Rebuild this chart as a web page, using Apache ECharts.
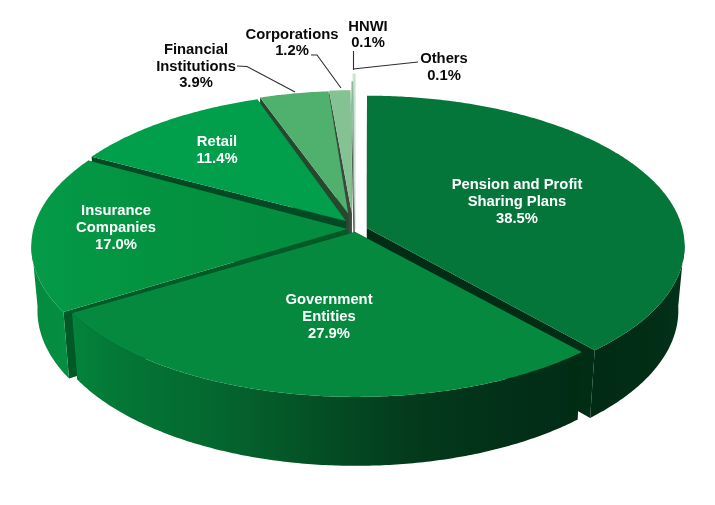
<!DOCTYPE html>
<html><head><meta charset="utf-8">
<style>html,body{margin:0;padding:0;background:#fff}#c{width:715px;height:505px}</style>
<script src="https://cdn.jsdelivr.net/npm/echarts@6/dist/echarts.min.js"></script>
</head><body><div id="c"></div>
<script>
// ---- data ----
const categories = ['Pension and Profit\nSharing Plans','Government\nEntities','Insurance\nCompanies','Retail','Financial\nInstitutions','Corporations','HNWI','Others'];
const shares = [38.5,27.9,17.0,11.4,3.9,1.2,0.1,0.1];
const shareLabels = ['38.5%','27.9%','17.0%','11.4%','3.9%','1.2%','0.1%','0.1%'];

// ---- styling and layout ----
// slice explosion, in units of the disc radius: rim and apex move separately to mimic the 3D camera
const explodeRim  = [[0.042,-0.01],[0.003,0],[-0.023,-0.006],[-0.014,-0.035],[-0.005,-0.05],[-0.003,-0.055],[0,-0.13],[0,-0.19]];
const explodeApex = [[0.038,-0.027],[0,0],[-0.025,-0.02],[-0.029,-0.074],[-0.022,-0.127],[-0.01,-0.127],[-0.002,-0.06],[0,-0.013]];
const topColors = [
  '#04763a','#05893f',
  [[0,'#039a48'],[0.45,'#03923f'],[1,'#048b3f']],
  '#019e4b','#4fb16d','#84c193','#8fb89a','#c6e4cd'];
const sideColors = ['#012d15','#01381a','#015a25','#014a23','#27482f','#3a4a3e','#555f58','#707a73'];
const wallStops = [
  [[0,'#012b14'],[0.75,'#012e16'],[1,'#02341a']],
  [[0,'#04843d'],[0.09,'#047736'],[0.25,'#046a30'],[0.36,'#045e2b'],[0.55,'#044722'],[0.7,'#03381b'],[0.9,'#022e17'],[1,'#012c14']],
  [[0,'#048a3f'],[1,'#058f43']],
  [[0,'#047a38'],[1,'#047a38']],
  [[0,'#3c8a55'],[1,'#3c8a55']],
  [[0,'#6a9a76'],[1,'#6a9a76']],
  [[0,'#88a890'],[1,'#88a890']],
  [[0,'#9cb8a4'],[1,'#9cb8a4']]
];
const topStroke = [null,null,null,null,null,null,null,'#c6e4cd'];
const labelPos = [[517,202],[329,317],[116,228],[217,150.5],[196,66.5],[292,43],[368,35],[444,67.5]];
const labelColors = ['#fff','#fff','#fff','#fff','#0a0a0a','#0a0a0a','#0a0a0a','#0a0a0a'];
const leaderLines = [
  [[237,66],[247,66.5],[295,92]],
  [[311,55],[317,55],[341,88]],
  [[353.5,51],[353.5,70]],
  [[418,62],[353,69]]
];
const CX=355, CY=232, RX=315, SY=148.5, K=0.0994, WALL=64, SHRINK_X=0.019, GROW_Y=0.03, WALL_VMIN=0.07;

function project(u,v,z){
  const w=1-K*v;
  return [CX+RX*u/w*(1-SHRINK_X*z), CY+SY*v/w*(1+GROW_Y*z)+WALL*z];
}
const total = shares.reduce((a,b)=>a+b,0);
const slices=[]; let acc=0;
shares.forEach((s,i)=>{const a0=acc/total*2*Math.PI; acc+=s; const a1=acc/total*2*Math.PI; slices.push({i,a0,a1});});
function rimPoint(sl,a,z){
  const e=explodeRim[sl.i];
  return project(e[0]+Math.sin(a), e[1]-Math.cos(a), z);
}
function apexPoint(sl,z){
  const e=explodeApex[sl.i];
  return project(e[0], e[1], z);
}
function arcAngles(sl){
  const n=Math.max(2,Math.ceil((sl.a1-sl.a0)/0.01)), out=[];
  for(let j=0;j<=n;j++) out.push(sl.a0+(sl.a1-sl.a0)*j/n);
  return out;
}
function hGrad(stops){
  return new echarts.graphic.LinearGradient(0,0,1,0,stops.map(s=>({offset:s[0],color:s[1]})));
}
function poly(points,fill,stroke){
  return {type:'polygon',shape:{points},style:{fill,stroke:stroke||null,lineWidth:stroke?1.2:0}};
}
function renderSlice(params,api){
  const sl=slices[api.value(0)], i=sl.i, kids=[];
  const ang=arcAngles(sl), at=ang.map(a=>rimPoint(sl,a,0)), ab=ang.map(a=>rimPoint(sl,a,1));
  const c0=apexPoint(sl,0), c1=apexPoint(sl,1);
  kids.push(poly([c0,at[0],ab[0],c1],sideColors[i]));
  kids.push(poly([c0,at[at.length-1],ab[ab.length-1],c1],sideColors[i]));
  const front=ang.filter(a=>-Math.cos(a)>=WALL_VMIN);
  if(front.length>1){
    const ft=front.map(a=>rimPoint(sl,a,0)), fb=front.map(a=>rimPoint(sl,a,1));
    kids.push(poly(ft.concat(fb.reverse()),hGrad(wallStops[i])));
  }
  const tc=topColors[i];
  kids.push(poly([c0].concat(at),Array.isArray(tc)?hGrad(tc):tc,topStroke[i]));
  return {type:'group',children:kids};
}
function renderText(params,api){
  const i=api.value(0), p=labelPos[i];
  return {type:'text',x:p[0],y:p[1],style:{
    text:categories[i]+'\n'+shareLabels[i],fill:labelColors[i],
    font:'bold 14.8px "Liberation Sans", Arial, sans-serif',lineHeight:16.7,align:'center',verticalAlign:'middle'}};
}
const drawOrder=[7,6,5,4,3,0,2,1];
const chart=echarts.init(document.getElementById('c'),null,{renderer:'canvas'});
chart.setOption({
  animation:false,
  backgroundColor:'#fff',
  tooltip:{show:false},
  series:[
    {type:'custom',coordinateSystem:'none',silent:true,z:1,renderItem:renderSlice,data:drawOrder.map(i=>[i,shares[i]])},
    {type:'custom',coordinateSystem:'none',silent:true,z:2,renderItem:(p,api)=>({type:'polyline',shape:{points:leaderLines[api.value(0)]},style:{stroke:'#2e2e2e',lineWidth:1.1,fill:null}}),data:leaderLines.map((l,i)=>[i])},
    {type:'custom',coordinateSystem:'none',silent:true,z:3,renderItem:renderText,data:shares.map((s,i)=>[i,s])}
  ]
});
</script></body></html>
